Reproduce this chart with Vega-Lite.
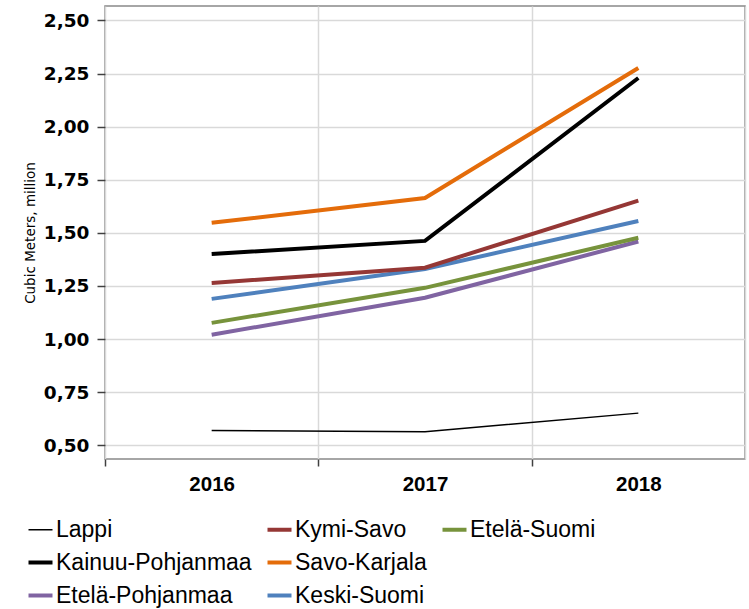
{
  "$schema": "https://vega.github.io/schema/vega-lite/v6.json",
  "width": 640,
  "height": 453,
  "autosize": {"type": "none"},
  "padding": {"left": 105, "top": 6, "right": 4, "bottom": 150},
  "config": {"view": {"stroke": "#898989", "strokeWidth": 1.5}, "font": "Liberation Sans"},
  "data": {"values": [
    {"year": "2016", "series": "Lappi", "value": 0.569},
    {"year": "2017", "series": "Lappi", "value": 0.563},
    {"year": "2018", "series": "Lappi", "value": 0.651},
    {"year": "2016", "series": "Etelä-Pohjanmaa", "value": 1.020},
    {"year": "2017", "series": "Etelä-Pohjanmaa", "value": 1.194},
    {"year": "2018", "series": "Etelä-Pohjanmaa", "value": 1.459},
    {"year": "2016", "series": "Etelä-Suomi", "value": 1.076},
    {"year": "2017", "series": "Etelä-Suomi", "value": 1.241},
    {"year": "2018", "series": "Etelä-Suomi", "value": 1.477},
    {"year": "2016", "series": "Keski-Suomi", "value": 1.189},
    {"year": "2017", "series": "Keski-Suomi", "value": 1.330},
    {"year": "2018", "series": "Keski-Suomi", "value": 1.556},
    {"year": "2016", "series": "Kymi-Savo", "value": 1.264},
    {"year": "2017", "series": "Kymi-Savo", "value": 1.336},
    {"year": "2018", "series": "Kymi-Savo", "value": 1.652},
    {"year": "2016", "series": "Kainuu-Pohjanmaa", "value": 1.400},
    {"year": "2017", "series": "Kainuu-Pohjanmaa", "value": 1.462},
    {"year": "2018", "series": "Kainuu-Pohjanmaa", "value": 2.229},
    {"year": "2016", "series": "Savo-Karjala", "value": 1.547},
    {"year": "2017", "series": "Savo-Karjala", "value": 1.664},
    {"year": "2018", "series": "Savo-Karjala", "value": 2.276}
  ]},
  "mark": {"type": "line", "strokeCap": "butt", "strokeJoin": "miter"},
  "encoding": {
    "x": {
      "field": "year", "type": "ordinal",
      "scale": {"type": "band", "paddingInner": 0, "paddingOuter": 0},
      "axis": {
        "title": null, "tickBand": "extent", "grid": true, "gridColor": "#d9d9d9", "gridWidth": 1.5,
        "domain": false, "ticks": true, "tickSize": 7, "tickColor": "#404040", "tickWidth": 1.5,
        "tickOpacity": {"condition": {"test": "datum.index === 1", "value": 0}, "value": 1},
        "labelAngle": 0, "labelFont": "Liberation Sans", "labelFontSize": 20.5, "labelFontWeight": "bold",
        "labelColor": "#000000", "labelPadding": 8
      }
    },
    "y": {
      "field": "value", "type": "quantitative",
      "scale": {"domain": [0.435, 2.568], "nice": false, "zero": false},
      "axis": {
        "values": [0.5, 0.75, 1, 1.25, 1.5, 1.75, 2, 2.25, 2.5],
        "labelExpr": "replace(format(datum.value, '.2f'), '.', ',')",
        "grid": true, "gridColor": "#d9d9d9", "gridWidth": 1.5,
        "domain": false, "tickSize": 8, "tickColor": "#404040", "tickWidth": 1.5,
        "labelFont": "DejaVu Sans", "labelFontSize": 18.5, "labelFontWeight": "bold", "labelColor": "#000000",
        "labelPadding": 8,
        "title": "Cubic Meters, million", "titleFont": "DejaVu Sans", "titleFontSize": 13.5,
        "titleFontWeight": "normal", "titleColor": "#000000", "titlePadding": 6
      }
    },
    "color": {
      "field": "series", "type": "nominal",
      "scale": {
        "domain": ["Lappi", "Kymi-Savo", "Etelä-Suomi", "Kainuu-Pohjanmaa", "Savo-Karjala", " ", "Etelä-Pohjanmaa", "Keski-Suomi"],
        "range": ["#000000", "#953735", "#77933C", "#000000", "#E46C0A", "#ffffff", "#8064A2", "#4F81BD"]
      },
      "legend": {
        "title": null, "orient": "none", "legendX": -76, "legendY": 512, "direction": "horizontal", "columns": 3,
        "symbolType": "stroke", "symbolSize": 576, "labelFont": "Liberation Sans", "labelFontSize": 23,
        "labelColor": "#000000", "labelOffset": 4, "columnPadding": 7, "rowPadding": 9, "padding": 0, "labelLimit": 300,
        "encode": {"symbols": {"update": {"strokeWidth": {"signal": "datum.value === 'Lappi' ? 1.5 : (datum.value === ' ' ? 0 : 4)"}}}}
      }
    },
    "strokeWidth": {
      "condition": {"test": "datum.series === 'Lappi'", "value": 1.5},
      "value": 4
    }
  }
}
